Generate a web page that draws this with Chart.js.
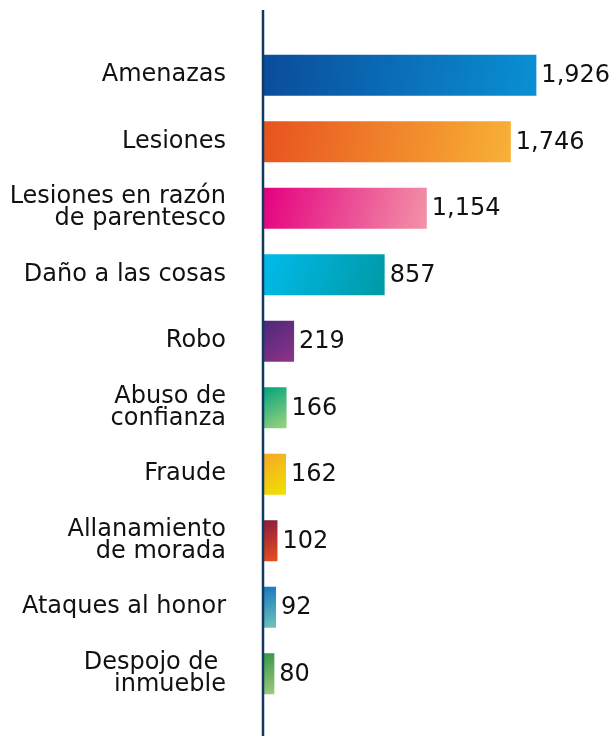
<!DOCTYPE html>
<html>
<head>
<meta charset="utf-8">
<style>
  html, body { margin: 0; padding: 0; background: #ffffff; }
  #wrap { width: 615px; height: 736px; position: relative; }
</style>
<script src="https://cdn.jsdelivr.net/npm/chart.js@4/dist/chart.umd.min.js"></script>
</head>
<body>
<div id="wrap"><canvas id="c" width="615" height="736"></canvas></div>
<script>
const categories = [
  "Amenazas",
  "Lesiones",
  ["Lesiones en razón", "de parentesco"],
  "Daño a las cosas",
  "Robo",
  ["Abuso de", "confianza"],
  "Fraude",
  ["Allanamiento", "de morada"],
  "Ataques al honor",
  ["Despojo de ", "inmueble"]
];
const values = [1926, 1746, 1154, 857, 219, 166, 162, 102, 92, 80];
const gradientStart = ["#0a4c9b", "#e8521f", "#e4007f", "#00bbeb", "#4b2879", "#00a27c", "#f6a728", "#891b3c", "#1777c4", "#359746"];
const gradientEnd   = ["#0a90d4", "#f8b136", "#f293a8", "#0099a6", "#8f338a", "#9fd47c", "#f0e200", "#e9501f", "#70c3b6", "#9ecb7c"];

const FONT = "'DejaVu Sans', 'Liberation Sans', Arial, sans-serif";
const BAR_PCT = 0.617;

function barGradient(ctx) {
  const chart = ctx.chart;
  const i = ctx.dataIndex;
  const xs = chart.scales.x, ys = chart.scales.y;
  if (!chart.chartArea || !xs || !ys || i === undefined) return gradientStart[i] || "#888";
  const x0 = xs.getPixelForValue(0);
  const x1 = xs.getPixelForValue(values[i]);
  const yc = ys.getPixelForValue(i);
  const band = Math.abs(ys.getPixelForValue(1) - ys.getPixelForValue(0));
  const h = band * BAR_PCT;
  const g = chart.ctx.createLinearGradient(x0, yc - h / 2, x1, yc + h / 2);
  g.addColorStop(0, gradientStart[i]);
  g.addColorStop(1, gradientEnd[i]);
  return g;
}

const axisLine = {
  id: "axisLine",
  afterDatasetsDraw(chart) {
    const c = chart.ctx;
    const x = chart.scales.x.getPixelForValue(0);
    c.save();
    c.strokeStyle = "#123a5e";
    c.lineWidth = 2.5;
    c.beginPath();
    c.moveTo(x, 10);
    c.lineTo(x, chart.height);
    c.stroke();
    c.restore();
  }
};

const valueLabels = {
  id: "valueLabels",
  afterDatasetsDraw(chart) {
    const c = chart.ctx;
    const meta = chart.getDatasetMeta(0);
    c.save();
    c.font = "24px " + FONT;
    c.fillStyle = "#111111";
    c.textAlign = "left";
    c.textBaseline = "middle";
    meta.data.forEach((bar, i) => {
      c.fillText(values[i].toLocaleString("en-US"), bar.x + 5, bar.y + 1);
    });
    c.restore();
  }
};

new Chart(document.getElementById("c"), {
  type: "bar",
  data: {
    labels: categories,
    datasets: [{
      data: values,
      backgroundColor: barGradient,
      borderWidth: 0,
      barPercentage: BAR_PCT,
      categoryPercentage: 1
    }]
  },
  options: {
    indexAxis: "y",
    responsive: false,
    animation: false,
    devicePixelRatio: 1,
    layout: { padding: { top: 42, bottom: 29, left: 0, right: 0 } },
    plugins: {
      legend: { display: false },
      tooltip: { enabled: false },
      title: { display: false }
    },
    scales: {
      x: {
        display: false,
        min: 0,
        max: 2480
      },
      y: {
        grid: { display: false, drawTicks: false },
        border: { display: false },
        afterFit(scale) {
          scale.width = 263;
          scale.paddingTop = 0;
          scale.paddingBottom = 0;
        },
        ticks: {
          autoSkip: false,
          padding: 37,
          color: "#111111",
          font: { family: FONT, size: 24, lineHeight: "22px" }
        }
      }
    }
  },
  plugins: [axisLine, valueLabels]
});
</script>
</body>
</html>
